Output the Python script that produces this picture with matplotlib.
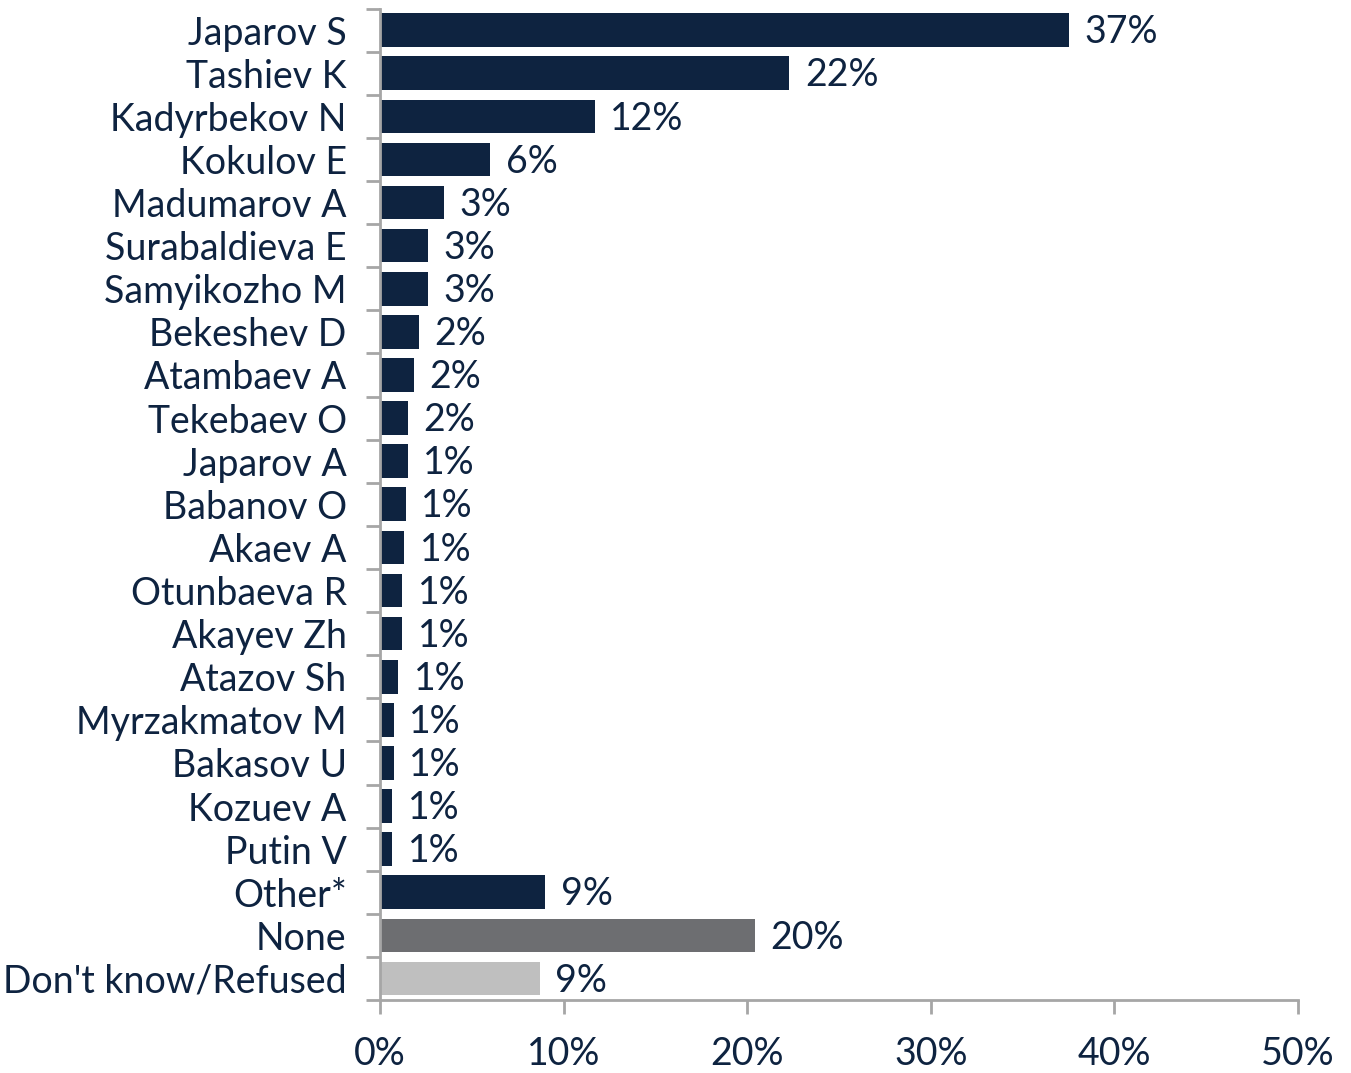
import matplotlib.pyplot as plt
from matplotlib.ticker import MultipleLocator, FuncFormatter

names = ["Japarov S", "Tashiev K", "Kadyrbekov N", "Kokulov E", "Madumarov A",
         "Surabaldieva E", "Samyikozho M", "Bekeshev D", "Atambaev A", "Tekebaev O",
         "Japarov A", "Babanov O", "Akaev A", "Otunbaeva R", "Akayev Zh",
         "Atazov Sh", "Myrzakmatov M", "Bakasov U", "Kozuev A", "Putin V",
         "Other*", "None", "Don't know/Refused"]
values = [37.5, 22.3, 11.7, 6.0, 3.5, 2.6, 2.6, 2.1, 1.85, 1.5,
          1.5, 1.4, 1.3, 1.2, 1.2, 1.0, 0.75, 0.75, 0.65, 0.65,
          9.0, 20.4, 8.7]
labels = ["37%", "22%", "12%", "6%", "3%", "3%", "3%", "2%", "2%", "2%",
          "1%", "1%", "1%", "1%", "1%", "1%", "1%", "1%", "1%", "1%",
          "9%", "20%", "9%"]

navy = "#0E2340"
colors = [navy] * 21 + ["#6D6E71", "#BFBFBF"]
text_color = "#0E2340"
axis_color = "#A6A6A6"

plt.rcParams['font.family'] = ['Lato', 'DejaVu Sans']

fig = plt.figure(figsize=(13.51, 10.73), dpi=100)
ax = fig.add_axes([0.2813, 0.068, 0.6795, 0.924])

pos = list(range(len(names)))
ax.barh(pos, values, height=0.78, color=colors)
for p, v, lab in zip(pos, values, labels):
    ax.text(v + 0.85, p + 0.05, lab, va='center', ha='left', fontsize=27, color=text_color)

ax.set_ylim(len(names) - 0.5, -0.5)
ax.set_xlim(0, 50)
ax.set_yticks(pos)
ax.set_yticklabels(names, fontsize=27, color=text_color)
ax.set_yticks([p - 0.5 for p in pos] + [len(names) - 0.5], minor=True)
ax.tick_params(axis='y', which='major', length=0, pad=24)
ax.tick_params(axis='y', which='minor', length=10, width=2, color=axis_color)

ax.xaxis.set_major_locator(MultipleLocator(10))
ax.xaxis.set_major_formatter(FuncFormatter(lambda x, _: f"{x:.0f}%"))
ax.tick_params(axis='x', length=10, width=2, color=axis_color, labelsize=27,
               labelcolor=text_color, pad=16)

for s in ['top', 'right']:
    ax.spines[s].set_visible(False)
for s in ['left', 'bottom']:
    ax.spines[s].set_color(axis_color)
    ax.spines[s].set_linewidth(2)

fig.savefig("out.png", dpi=100)
